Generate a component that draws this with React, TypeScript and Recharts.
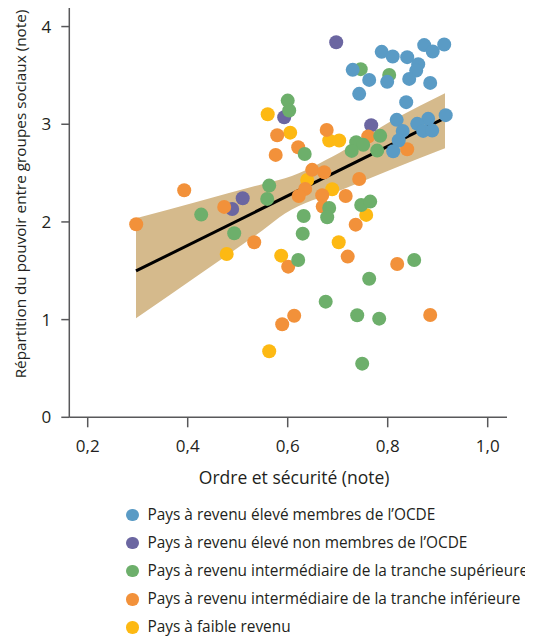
import React from "react";
import { ComposedChart, XAxis, YAxis, Scatter, Line, Area, Label } from "recharts";

// ---- Data ----
const highOECD = [
  { x: 0.788, y: 3.741 }, { x: 0.810, y: 3.693 }, { x: 0.839, y: 3.687 }, { x: 0.873, y: 3.810 },
  { x: 0.890, y: 3.744 }, { x: 0.913, y: 3.816 }, { x: 0.861, y: 3.615 }, { x: 0.857, y: 3.549 },
  { x: 0.843, y: 3.464 }, { x: 0.885, y: 3.423 }, { x: 0.730, y: 3.557 }, { x: 0.763, y: 3.454 },
  { x: 0.799, y: 3.434 }, { x: 0.743, y: 3.311 }, { x: 0.837, y: 3.226 }, { x: 0.818, y: 3.045 },
  { x: 0.916, y: 3.093 }, { x: 0.881, y: 3.055 }, { x: 0.859, y: 3.004 }, { x: 0.830, y: 2.932 },
  { x: 0.871, y: 2.932 }, { x: 0.889, y: 2.935 }, { x: 0.822, y: 2.833 }, { x: 0.811, y: 2.724 },
];
const highNonOECD = [
  { x: 0.697, y: 3.840 }, { x: 0.593, y: 3.072 }, { x: 0.767, y: 2.990 },
  { x: 0.510, y: 2.243 }, { x: 0.489, y: 2.133 },
];
const upperMiddle = [
  { x: 0.746, y: 3.564 }, { x: 0.803, y: 3.505 }, { x: 0.600, y: 3.242 }, { x: 0.603, y: 3.140 },
  { x: 0.634, y: 2.696 }, { x: 0.737, y: 2.816 }, { x: 0.751, y: 2.789 }, { x: 0.728, y: 2.727 },
  { x: 0.785, y: 2.881 }, { x: 0.779, y: 2.730 }, { x: 0.563, y: 2.372 }, { x: 0.559, y: 2.236 },
  { x: 0.427, y: 2.075 }, { x: 0.493, y: 1.884 }, { x: 0.632, y: 2.061 }, { x: 0.630, y: 1.880 },
  { x: 0.683, y: 2.143 }, { x: 0.679, y: 2.048 }, { x: 0.747, y: 2.174 }, { x: 0.765, y: 2.208 },
  { x: 0.621, y: 1.611 }, { x: 0.853, y: 1.611 }, { x: 0.763, y: 1.419 }, { x: 0.676, y: 1.184 },
  { x: 0.739, y: 1.045 }, { x: 0.783, y: 1.010 }, { x: 0.749, y: 0.549 },
];
const lowerMiddle = [
  { x: 0.297, y: 1.976 }, { x: 0.393, y: 2.325 }, { x: 0.473, y: 2.154 }, { x: 0.533, y: 1.792 },
  { x: 0.579, y: 2.888 }, { x: 0.576, y: 2.686 }, { x: 0.621, y: 2.765 }, { x: 0.649, y: 2.533 },
  { x: 0.673, y: 2.509 }, { x: 0.635, y: 2.338 }, { x: 0.622, y: 2.266 }, { x: 0.669, y: 2.273 },
  { x: 0.716, y: 2.266 }, { x: 0.670, y: 2.157 }, { x: 0.678, y: 2.942 }, { x: 0.761, y: 2.874 },
  { x: 0.839, y: 2.744 }, { x: 0.743, y: 2.440 }, { x: 0.736, y: 1.972 }, { x: 0.720, y: 1.645 },
  { x: 0.819, y: 1.570 }, { x: 0.601, y: 1.542 }, { x: 0.613, y: 1.040 }, { x: 0.589, y: 0.952 },
  { x: 0.885, y: 1.048 },
];
const lowIncome = [
  { x: 0.560, y: 3.103 }, { x: 0.605, y: 2.914 }, { x: 0.683, y: 2.833 }, { x: 0.703, y: 2.833 },
  { x: 0.639, y: 2.430 }, { x: 0.689, y: 2.335 }, { x: 0.757, y: 2.072 }, { x: 0.702, y: 1.792 },
  { x: 0.478, y: 1.672 }, { x: 0.587, y: 1.655 }, { x: 0.563, y: 0.676 },
];

// Regression line end points and confidence band edges
const fitLine = [
  { x: 0.2966, y: 1.498 },
  { x: 0.913, y: 3.06 },
];
const bandX = [0.2966, 0.4246, 0.5506, 0.5946, 0.7046, 0.8146, 0.9146];
const bandLow = [1.014, 1.468, 1.918, 2.087, 2.323, 2.553, 2.755];
const bandHigh = [2.038, 2.215, 2.389, 2.448, 2.712, 3.055, 3.318];

const xTicks = [0.2, 0.4, 0.6, 0.8, 1.0];
const yTicks = [0, 1, 2, 3, 4];

const legendItems = [
  { label: "Pays à revenu élevé membres de l’OCDE", color: "#5a9bc5" },
  { label: "Pays à revenu élevé non membres de l’OCDE", color: "#6b66a1" },
  { label: "Pays à revenu intermédiaire de la tranche supérieure", color: "#6daf6b" },
  { label: "Pays à revenu intermédiaire de la tranche inférieure", color: "#f2913a" },
  { label: "Pays à faible revenu", color: "#fdb913" },
];

const bandData = bandX.map((x, i) => ({ x, range: [bandLow[i], bandHigh[i]] }));

const FONT = "'Open Sans', sans-serif";
const TEXT = "#231f20";
const AXIS = "#58585a";

const Dot = (props: any) => {
  const { cx, cy, fill } = props;
  if (cx == null || cy == null) return null;
  return <circle cx={cx} cy={cy} r={7} fill={fill} />;
};

const YTitle = () => (
  <text
    x={12}
    y={186}
    transform="rotate(-90 12 186)"
    textAnchor="middle"
    dominantBaseline="central"
    fontFamily={FONT}
    fontSize={15.3}
    fill={TEXT}
  >
    Répartition du pouvoir entre groupes sociaux (note)
  </text>
);

export default function App() {
  return (
    <div style={{ position: "relative", width: 525, height: 631, fontFamily: FONT }}>
      <ComposedChart width={517} height={490} margin={{ top: 0, right: 18, bottom: 0, left: 0 }}>
        <XAxis
          type="number"
          dataKey="x"
          domain={[0.1632, 1.0386]}
          ticks={xTicks}
          allowDataOverflow
          height={80.7}
          tickSize={10}
          tickMargin={13}
          stroke={AXIS}
          strokeWidth={1.5}
          tick={{ fill: TEXT, fontSize: 17, fontFamily: FONT }}
          tickFormatter={(v: number) => v.toFixed(1).replace(".", ",")}
        >
          <Label
            value="Ordre et sécurité (note)"
            position="insideBottom"
            offset={14}
            dx={6}
            style={{ fill: TEXT, fontSize: 17.5, fontFamily: FONT }}
          />
        </XAxis>
        <YAxis
          type="number"
          dataKey="y"
          domain={[0, 4.19]}
          ticks={yTicks}
          allowDataOverflow
          width={61.3}
          tickSize={8}
          tickMargin={10}
          stroke={AXIS}
          strokeWidth={1.5}
          tick={{ fill: TEXT, fontSize: 17, fontFamily: FONT }}
        >
          <Label content={YTitle} />
        </YAxis>
        <Area
          data={bandData}
          dataKey="range"
          type="monotone"
          stroke="none"
          fill="#d5ba8c"
          fillOpacity={1}
          isAnimationActive={false}
        />
        <Line
          data={fitLine}
          dataKey="y"
          type="linear"
          stroke="#000"
          strokeWidth={3}
          dot={false}
          activeDot={false}
          isAnimationActive={false}
        />
        <Scatter data={lowIncome} fill="#fdb913" shape={Dot} isAnimationActive={false} />
        <Scatter data={highNonOECD} fill="#6b66a1" shape={Dot} isAnimationActive={false} />
        <Scatter data={lowerMiddle} fill="#f2913a" shape={Dot} isAnimationActive={false} />
        <Scatter data={upperMiddle} fill="#6daf6b" shape={Dot} isAnimationActive={false} />
        <Scatter data={highOECD} fill="#5a9bc5" shape={Dot} isAnimationActive={false} />
      </ComposedChart>
      <div style={{ position: "absolute", left: 118, top: 493, color: TEXT, fontSize: 15.4 }}>
        {legendItems.map((it) => (
          <div key={it.label} style={{ height: 28.1, lineHeight: "28.1px", whiteSpace: "nowrap", display: "flex", alignItems: "center" }}>
            <span
              style={{
                display: "inline-block",
                width: 12.5,
                height: 12.5,
                borderRadius: "50%",
                background: it.color,
                marginRight: 9,
                flex: "none",
              }}
            />
            <span>{it.label}</span>
          </div>
        ))}
      </div>
    </div>
  );
}
